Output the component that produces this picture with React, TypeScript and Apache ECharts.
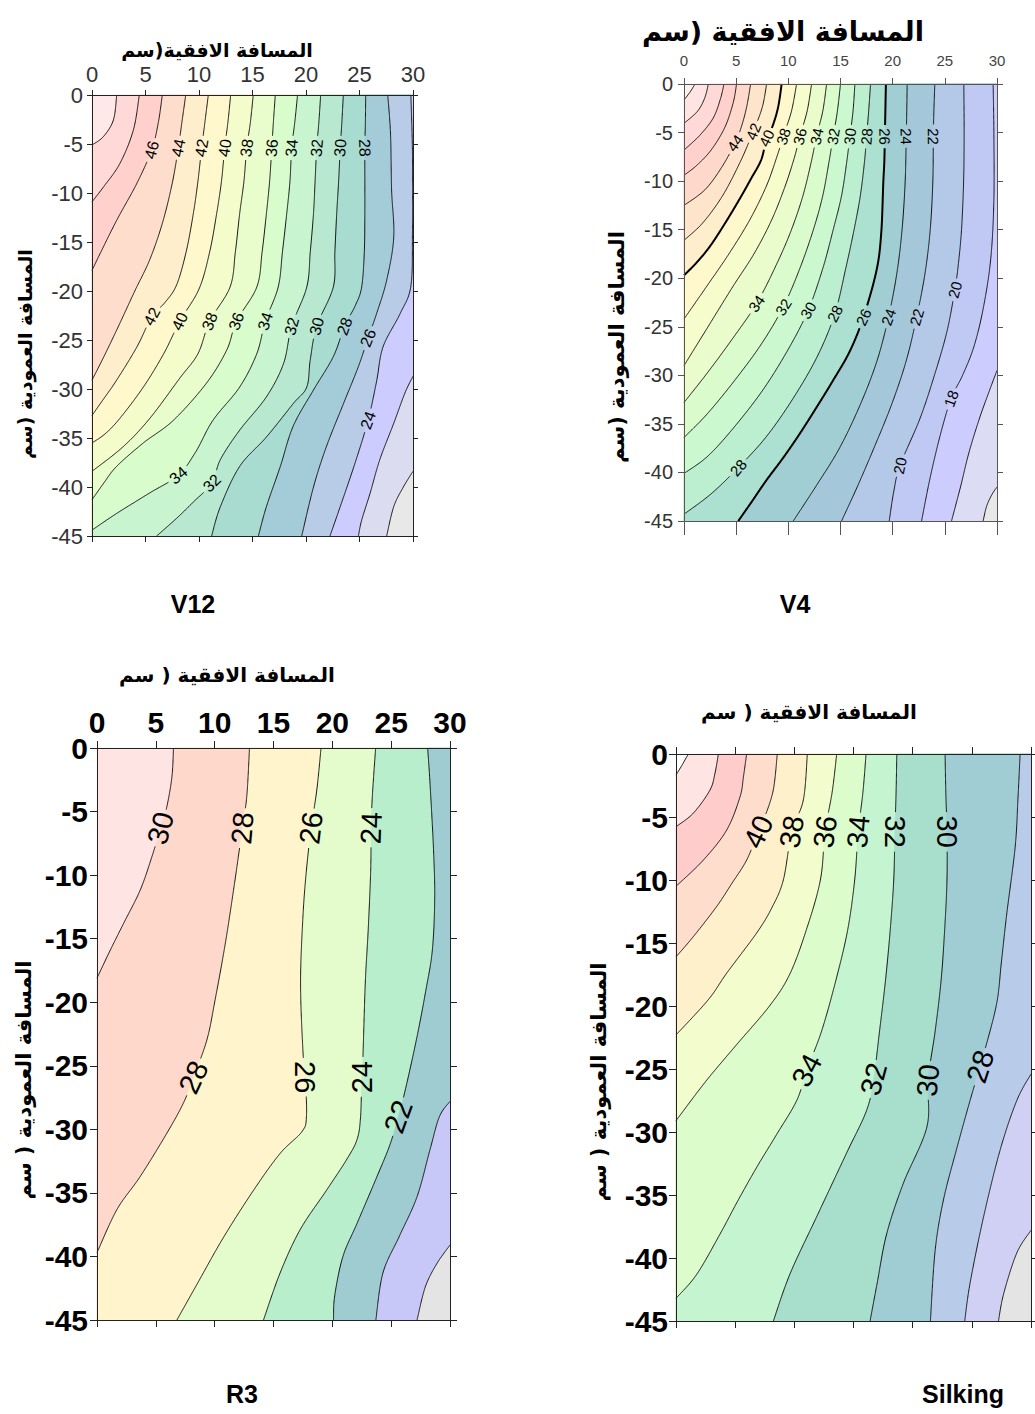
import React, { useEffect, useRef } from "react";
import * as echarts from "echarts";

type Pt = [number, number];

// ---------- shared axis ticks / texts ----------
const X_TICKS = [0, 5, 10, 15, 20, 25, 30];
const Y_TICKS = [0, -5, -10, -15, -20, -25, -30, -35, -40, -45];

const TITLE_H1 = "المسافة الافقية(سم";
const TITLE_H2 = "المسافة الافقية (سم";
const TITLE_H3 = "المسافة الافقية ( سم";
const TITLE_V1 = "المسافة العمودية (سم";
const TITLE_V3 = "المسافة العمودية ( سم";
const CAPTIONS = ["V12", "V4", "R3", "Silking"];

// ---------- V12 ----------
const V12_LEVELS = [50, 48, 46, 44, 42, 40, 38, 36, 34, 32, 30, 28, 26, 24, 22, 20];
const V12_LINES: Pt[][] = [
  [[2.31, 0], [2.0, -2.55], [1.06, -4.25], [0, -5.1]],
  [[4.42, 0], [3.86, -3.6], [2.6, -7.0], [1.06, -9.4], [0, -10.9]],
  [[6.57, 0], [6.2, -2.8], [5.58, -5.6], [4.2, -9.0], [2.3, -12.8], [0.75, -16.2], [0, -17.9]],
  [[8.76, 0], [8.4, -2.8], [8.07, -5.4], [7.5, -9], [6.6, -13], [5.4, -16.8], [4.0, -20], [2.6, -23.3], [1.2, -26.5], [0, -29.1]],
  [[10.87, 0], [10.55, -2.8], [10.25, -5.4], [9.9, -8.8], [9.47, -12.1], [8.8, -16], [7.9, -19.4], [6.8, -21.2], [5.6, -22.6], [4.2, -25.7], [2.3, -29.1], [0.9, -31.3], [0, -32.7]],
  [[12.96, 0], [12.7, -2.8], [12.4, -5.4], [12.1, -8.8], [11.65, -12.1], [11.0, -16], [10.0, -19.8], [8.2, -23.1], [6.7, -26.4], [4.8, -29.8], [2.6, -33.0], [1.2, -34.6], [0, -35.5]],
  [[15.07, 0], [14.8, -2.8], [14.46, -5.4], [14.2, -8.8], [13.8, -12.1], [13.4, -16], [12.9, -19.6], [11.0, -23.1], [9.9, -26.4], [8.2, -28.9], [5.4, -33.0], [2.9, -35.9], [0, -38.4]],
  [[17.13, 0], [16.95, -2.8], [16.8, -5.4], [16.6, -8.8], [16.3, -12.1], [15.9, -16], [15.4, -19.6], [13.5, -23.1], [12.6, -26], [10.7, -29.4], [7.6, -33.2], [4.8, -35.5], [2.3, -37.9], [1.1, -39.6], [0, -41.3]],
  [[19.21, 0], [18.95, -2.8], [18.66, -5.4], [18.5, -8.8], [18.2, -12.1], [17.8, -16], [17.4, -19.6], [16.2, -23.1], [15.4, -26.4], [13.8, -29.8], [11.3, -33.2], [9.7, -36.4], [8.07, -38.8], [5.4, -40.6], [2.3, -42.7], [0, -44.4]],
  [[21.37, 0], [21.2, -2.8], [21.0, -5.4], [20.85, -8.8], [20.7, -12.1], [20.4, -16], [20.07, -19.6], [18.66, -23.6], [17.9, -27.4], [16.3, -30.8], [13.8, -34.2], [12.0, -37.2], [11.2, -39.6], [9.5, -41.5], [7.9, -43.2], [6.04, -45]],
  [[23.49, 0], [23.35, -2.8], [23.2, -5.4], [23.05, -8.8], [22.87, -12.1], [22.7, -16], [22.55, -19.6], [21.0, -23.6], [20.4, -27], [20.07, -29.8], [18.8, -31.5], [16.3, -34.9], [13.8, -37.9], [12.0, -42], [11.18, -45]],
  [[25.58, 0], [25.55, -2.8], [25.5, -5.4], [25.5, -8.8], [25.5, -12.1], [25.45, -16], [25.2, -19.6], [24.6, -21.5], [23.6, -23.6], [22.55, -26.7], [20.7, -30.1], [18.8, -33.8], [17.6, -37.9], [16.3, -42], [15.55, -45]],
  [[27.64, 0], [27.9, -4], [28.0, -9.7], [28.2, -14.5], [27.54, -18.9], [26.6, -22.3], [25.8, -24.8], [24.9, -27.7], [23.5, -31.5], [21.9, -35.9], [20.7, -40], [19.6, -45]],
  [[29.8, 0], [29.95, -6], [29.95, -14], [29.8, -19.5], [28.8, -22.3], [27.2, -25.7], [26.6, -29.2], [25.8, -33.2], [24.6, -37.5], [23.2, -42], [22.24, -45]],
  [[30, -28.7], [29.25, -30.4], [28.2, -33.5], [26.9, -37.2], [26.0, -40.6], [25.2, -43.4], [24.9, -45]],
  [[30, -38.4], [29.1, -40], [28.2, -42], [27.54, -45]],
];
const V12_COLORS = ["#FFE8E8", "#FFD8D8", "#FFD0CC", "#FFDDCC", "#FFEECC", "#FFF8CC", "#F4FCCC", "#E8FCCC", "#D8FCCC", "#C8F4D0", "#B8E8D0", "#A8DCD0", "#A4CCD8", "#B8CCE8", "#CCCCFF", "#DCDCF0", "#E8E8E8"];
// [x, y, level, angle(deg)]
const V12_LABELS = [
  [5.58, -5.6, 46, 75], [8.07, -5.4, 44, 78], [10.25, -5.4, 42, 80], [12.4, -5.4, 40, 82], [14.46, -5.4, 38, 83],
  [16.8, -5.4, 36, 85], [18.66, -5.4, 34, 85], [21.0, -5.4, 32, 85], [23.2, -5.4, 30, 86], [25.5, -5.4, 28, -88],
  [5.6, -22.6, 42, 62], [8.2, -23.1, 40, 65], [11.0, -23.1, 38, 68], [13.5, -23.1, 36, 70], [16.2, -23.1, 34, 72],
  [18.66, -23.6, 32, 75], [21.0, -23.6, 30, 75], [23.6, -23.6, 28, 70], [25.8, -24.8, 26, 68], [25.8, -33.2, 24, 70],
  [8.07, -38.8, 34, 40], [11.2, -39.6, 32, 45],
];

// ---------- V4 ----------
const V4_LEVELS = [52, 50, 48, 46, 44, 42, 40, 38, 36, 34, 32, 30, 28, 26, 24, 22, 20, 18, 16, 14];
const V4_LINES: Pt[][] = [
  [[1.05, 0], [0.6, -0.8], [0, -1.65]],
  [[2.33, 0], [2.0, -1.4], [1.3, -2.8], [0, -4.05]],
  [[3.83, 0], [3.5, -1.5], [2.8, -3.5], [1.5, -5.3], [0, -6.8]],
  [[5.04, 0], [4.7, -2.0], [3.9, -4.5], [2.6, -6.8], [1.2, -8.4], [0, -9.4]],
  [[6.39, 0], [6.0, -2.4], [5.5, -4.4], [4.89, -6.08], [3.6, -8.6], [2.0, -10.9], [0, -12.5]],
  [[7.92, 0], [7.5, -2.4], [6.64, -4.88], [5.4, -8.0], [3.7, -11.5], [1.8, -14.3], [0, -16.1]],
  [[9.36, 0], [9.0, -2.5], [8.4, -4.6], [7.92, -5.57], [7.4, -7.8], [6.4, -9.8], [5.3, -11.9], [3.9, -14.4], [2.5, -16.7], [1.2, -18.4], [0, -19.7]],
  [[10.79, 0], [10.3, -2.8], [9.51, -5.4], [8.9, -7.5], [7.9, -10.5], [6.3, -14.0], [4.3, -17.5], [2.2, -20.8], [0, -24.2]],
  [[12.23, 0], [11.8, -2.8], [11.1, -5.4], [10.6, -7.5], [9.7, -10.5], [8.4, -14], [6.7, -17.5], [4.6, -21], [2.3, -25], [0, -29.0]],
  [[13.67, 0], [13.3, -2.8], [12.7, -5.4], [12.2, -8], [11.4, -11.5], [10.3, -15], [8.9, -18.5], [6.96, -22.6], [4.6, -26.3], [2.2, -29.8], [0, -32.8]],
  [[15.0, 0], [14.7, -2.8], [14.3, -5.4], [13.9, -8], [13.3, -11.5], [12.4, -15], [11.1, -19], [9.51, -22.96], [7.4, -26.8], [4.8, -30.6], [2.2, -34], [0, -36.4]],
  [[16.38, 0], [16.2, -2.8], [15.9, -5.4], [15.6, -8], [15.1, -11.5], [14.3, -15], [13.3, -19], [11.9, -23.3], [10.0, -27.3], [7.5, -31.6], [4.6, -35.6], [2.2, -38.4], [0, -40.1]],
  [[17.88, 0], [17.7, -2.8], [17.5, -5.4], [17.3, -8], [16.9, -11.5], [16.3, -15], [15.5, -19], [14.46, -23.65], [12.8, -28], [10.5, -32.3], [7.9, -36.3], [5.2, -39.5], [2.6, -42.2], [0, -44.3]],
  [[19.35, 0], [19.3, -2.8], [19.25, -5.4], [19.2, -8], [19.1, -10.2], [18.9, -15.4], [18.45, -19.2], [17.2, -24], [15.9, -27.5], [14.3, -30.5], [12.7, -33.3], [11.1, -36.0], [9.5, -38.5], [7.9, -40.8], [6.5, -43], [5.2, -45]],
  [[21.39, 0], [21.35, -2.8], [21.3, -5.4], [21.2, -10], [20.9, -15], [20.4, -19.5], [19.6, -24], [18.5, -28.5], [16.9, -33], [14.9, -37.5], [12.6, -41.5], [10.47, -45]],
  [[24.04, 0], [23.95, -2.8], [23.9, -5.4], [23.85, -10], [23.6, -15], [23.1, -19.5], [22.3, -24], [21.3, -28.5], [19.9, -33], [18.2, -37.5], [16.6, -41.5], [15.1, -45]],
  [[26.82, 0], [26.85, -5], [26.8, -10], [26.6, -15], [26.3, -18.5], [25.96, -21.2], [25.2, -25.5], [24.0, -30], [22.6, -34.5], [20.7, -39.3], [20.1, -42], [19.67, -45]],
  [[29.63, 0], [29.7, -5], [29.7, -12], [29.4, -18], [28.7, -23], [27.8, -27], [26.7, -30], [25.6, -32.4], [24.6, -36], [23.6, -40.5], [22.77, -45]],
  [[30, -29.5], [29.3, -31.5], [28.3, -34.5], [27.3, -38], [26.5, -41.5], [25.64, -45]],
  [[30, -41.5], [29.5, -42.3], [29.0, -43.5], [28.67, -45]],
];
const V4_BOLD = [40, 26];
const V4_COLORS = ["#FFF0F0", "#FFE4E4", "#FFD8D8", "#FFD0CC", "#FFD8CC", "#FFE4CC", "#FFEECC", "#FFF8CC", "#F6FCCC", "#EAFCCC", "#DAFCCC", "#CCF8D0", "#BCEED0", "#ACE0D0", "#A0CED2", "#A4C8DA", "#B4C8E8", "#C0C8F4", "#CCCCFF", "#DCDCF4", "#E8E8E8"];
const V4_LABELS = [
  [4.89, -6.08, 44, 55], [6.64, -4.88, 42, 68], [7.92, -5.57, 40, 65], [9.51, -5.4, 38, 72], [11.1, -5.4, 36, 75],
  [12.7, -5.4, 34, 78], [14.3, -5.4, 32, 80], [15.9, -5.4, 30, 83], [17.5, -5.4, 28, 85], [19.25, -5.4, 26, -89],
  [21.3, -5.4, 24, -89], [23.9, -5.4, 22, -89],
  [6.96, -22.6, 34, 55], [9.51, -22.96, 32, 58], [11.9, -23.3, 30, 60], [14.46, -23.65, 28, 63], [17.2, -24, 26, 65],
  [19.6, -24, 24, 70], [22.3, -24, 22, 73], [25.96, -21.2, 20, 75], [25.6, -32.4, 18, 70], [5.2, -39.5, 28, 50],
  [20.7, -39.3, 20, 78],
];

// ---------- R3 ----------
const R3_LEVELS = [30, 28, 26, 24, 22, 20, 18];
const R3_LINES: Pt[][] = [
  [[6.5, 0], [6.37, -2.24], [5.94, -4.6], [5.4, -6.3], [4.67, -8.54], [3.68, -11.16], [2.26, -13.8], [1.13, -15.9], [0, -18.1]],
  [[12.96, 0], [12.73, -3.8], [12.35, -6.3], [12.02, -8.5], [11.6, -11.2], [10.9, -15.4], [10.04, -19.8], [9.34, -22.96], [8.2, -25.9], [7.36, -27.9], [5.94, -30.3], [3.68, -33.7], [1.7, -36.3], [0, -39.7]],
  [[19.04, 0], [18.68, -3.3], [18.2, -6.3], [17.8, -9.6], [17.5, -13.3], [17.3, -18.5], [17.5, -23.8], [17.7, -25.9], [17.8, -29], [17.4, -30.2], [15.56, -31.9], [13.3, -34.8], [10.75, -38.5], [8.49, -42.2], [6.79, -45]],
  [[23.68, 0], [23.4, -3.8], [23.3, -6.3], [23.26, -9.6], [23.06, -14.1], [22.8, -18.5], [22.6, -24.3], [22.5, -25.9], [22.4, -29], [22.1, -30.8], [21.2, -32.4], [19.5, -34.8], [17.26, -37.9], [15.56, -41.3], [14.15, -45]],
  [[28.1, 0], [28.3, -2.76], [28.6, -8], [28.7, -11.9], [28.5, -15.9], [27.96, -19], [27.2, -22.7], [26.2, -26.9], [25.6, -29], [24.9, -31.2], [23.8, -33.7], [22.1, -37.4], [20.9, -40], [20.2, -43.1], [20.1, -45]],
  [[30, -27.8], [29.1, -29], [28.3, -31.6], [27.2, -35.3], [25.7, -38.4], [24.3, -41.3], [23.7, -45]],
  [[30, -39.1], [28.86, -40.6], [27.9, -42.4], [27.2, -45]],
];
const R3_COLORS = ["#FFE4E4", "#FFD8CC", "#FFF4CC", "#E4FCCC", "#B8EECC", "#9FCCD0", "#C8C8F8", "#E4E4E4"];
const R3_LABELS = [
  [5.4, -6.3, 30, 75], [12.35, -6.3, 28, 85], [18.2, -6.3, 26, 83], [23.3, -6.3, 24, 88],
  [8.2, -25.9, 28, 65], [17.7, -25.9, 26, -90], [22.5, -25.9, 24, 90], [25.6, -29, 22, 70],
];

// ---------- Silking ----------
const SK_LEVELS = [46, 44, 42, 40, 38, 36, 34, 32, 30, 28, 26, 24];
const SK_LINES: Pt[][] = [
  [[1.04, 0], [0.5, -0.9], [0, -1.67]],
  [[3.58, 0], [3.3, -1.5], [2.87, -2.86], [1.46, -4.7], [0, -5.77]],
  [[5.97, 0], [5.7, -1.8], [5.41, -3.4], [4.28, -6.04], [2.31, -8.42], [0, -10.5]],
  [[8.56, 0], [8.22, -2.86], [7.5, -5.0], [6.96, -6.17], [5.97, -8.42], [4.7, -10.3], [3.44, -12.1], [1.46, -14.5], [0, -16.1]],
  [[11.1, 0], [10.76, -3.65], [9.78, -6.17], [9.07, -10.0], [8.1, -12.2], [6.82, -14.2], [4.28, -17.4], [2.73, -19.5], [0, -22.3]],
  [[13.58, 0], [13.2, -3], [12.6, -6.17], [12.2, -10], [11.0, -14], [9.6, -17.5], [7.9, -20], [5.0, -23.2], [2.5, -26], [0, -29.1]],
  [[16.06, 0], [15.8, -3], [15.4, -6.17], [15.1, -10], [14.5, -14], [13.5, -18], [12.3, -22], [11.05, -25.1], [10.2, -27.5], [8.5, -30.2], [6.82, -32.8], [5.2, -35.5], [3.72, -38.1], [1.75, -41.3], [0, -43.2]],
  [[18.66, 0], [18.6, -3], [18.5, -6.17], [18.4, -10], [18.1, -14], [17.7, -18], [17.2, -22], [16.7, -25.8], [16.1, -28.3], [14.4, -31.7], [11.9, -36.7], [9.64, -41.25], [8.23, -45]],
  [[22.74, 0], [22.8, -3], [22.9, -6.17], [22.9, -10], [22.7, -14], [22.4, -18], [21.9, -22], [21.3, -25.9], [21.2, -29.6], [19.2, -34.1], [17.8, -38.1], [17.0, -42], [16.4, -45]],
  [[29.08, 0], [28.9, -3.5], [28.66, -7.4], [27.95, -12.7], [27.5, -16.5], [27.1, -19.8], [26.1, -23.5], [25.7, -24.8], [24.85, -27.5], [23.7, -31.4], [22.6, -35.4], [21.9, -39.4], [21.5, -45]],
  [[30, -25.4], [28.8, -27.5], [27.4, -31.4], [26.0, -36.7], [24.85, -42.0], [24.4, -45]],
  [[30, -37.8], [28.8, -39.6], [27.7, -42.8], [27.25, -45]],
];
const SK_COLORS = ["#FFFFFF", "#FFE4E4", "#FFCCCC", "#FFDDCC", "#FFF0CC", "#F2FCCC", "#DCFCCC", "#C4F4D0", "#A8DECC", "#A0CCD4", "#B8CCEA", "#D0D0F4", "#E4E4E4"];
const SK_LABELS = [
  [6.96, -6.17, 40, 65], [9.78, -6.17, 38, 80], [12.6, -6.17, 36, 82], [15.4, -6.17, 34, 85], [18.5, -6.17, 32, -90],
  [22.9, -6.17, 30, -90], [11.05, -25.1, 34, 62], [16.7, -25.8, 32, 75], [21.3, -25.9, 30, 85], [25.7, -24.8, 28, 72],
];

// ---------- geometry helpers ----------
const XMIN = X_TICKS[0];
const XMAX = X_TICKS[X_TICKS.length - 1];
const YMAX = Y_TICKS[0];
const YMIN = Y_TICKS[Y_TICKS.length - 1];
const W = XMAX - XMIN;
const H = YMAX - YMIN;
const PER = 2 * (W + H);

function perim(p: Pt): number {
  const e = 1e-6;
  const [x, y] = p;
  if (x <= XMIN + e) return YMAX - y;
  if (y <= YMIN + e) return H + (x - XMIN);
  if (x >= XMAX - e) return H + W + (y - YMIN);
  return 2 * H + W + (XMAX - x);
}
const CORNERS: { s: number; p: Pt }[] = [
  { s: 0, p: [XMIN, YMAX] },
  { s: H, p: [XMIN, YMIN] },
  { s: H + W, p: [XMAX, YMIN] },
  { s: 2 * H + W, p: [XMAX, YMAX] },
];
function cornersAfter(line: Pt[]): Pt[] {
  const ss = perim(line[0]);
  const se = perim(line[line.length - 1]);
  const d = (((ss - se) % PER) + PER) % PER;
  return CORNERS.map((c) => ({ dc: (((c.s - se) % PER) + PER) % PER, p: c.p }))
    .filter((c) => c.dc > 1e-6 && c.dc < d - 1e-6)
    .sort((a, b) => a.dc - b.dc)
    .map((c) => c.p);
}

function smoothPx(pts: number[][], step = 1.5): number[][] {
  if (pts.length < 3) {
    const out: number[][] = [];
    for (let i = 0; i < pts.length - 1; i++) {
      const a = pts[i], b = pts[i + 1];
      const n = Math.max(1, Math.ceil(Math.hypot(b[0] - a[0], b[1] - a[1]) / step));
      for (let k = 0; k < n; k++) out.push([a[0] + ((b[0] - a[0]) * k) / n, a[1] + ((b[1] - a[1]) * k) / n]);
    }
    out.push(pts[pts.length - 1]);
    return out;
  }
  const out: number[][] = [];
  for (let i = 0; i < pts.length - 1; i++) {
    const p0 = pts[Math.max(i - 1, 0)], p1 = pts[i], p2 = pts[i + 1], p3 = pts[Math.min(i + 2, pts.length - 1)];
    const len = Math.hypot(p2[0] - p1[0], p2[1] - p1[1]);
    const n = Math.max(2, Math.ceil(len / step));
    for (let k = 0; k < n; k++) {
      const t = k / n, t2 = t * t, t3 = t2 * t;
      const q = [0, 1].map(
        (j) =>
          0.5 *
          (2 * p1[j] +
            (-p0[j] + p2[j]) * t +
            (2 * p0[j] - 5 * p1[j] + 4 * p2[j] - p3[j]) * t2 +
            (-p0[j] + 3 * p1[j] - 3 * p2[j] + p3[j]) * t3)
      );
      out.push(q);
    }
  }
  out.push(pts[pts.length - 1]);
  return out;
}

// ---------- panel definitions ----------
interface Panel {
  levels: number[];
  lines: Pt[][];
  colors: string[];
  labels: number[][];
  bold: number[];
  grid: { left: number; top: number; width: number; height: number };
  labelFont: number;
  axisColor: string;
  xLab: any;
  yLab: any;
  ticks: { top: number; bottom: number; left: number; right: number };
}

const PANELS: Panel[] = [
  {
    levels: V12_LEVELS, lines: V12_LINES, colors: V12_COLORS, labels: V12_LABELS, bold: [],
    grid: { left: 92, top: 95, width: 321, height: 441 },
    labelFont: 16, axisColor: "#222",
    xLab: { show: true, fontSize: 22, fontWeight: "normal", color: "#333", margin: 10 },
    yLab: { show: true, fontSize: 22, fontWeight: "normal", color: "#333", margin: 9 },
    ticks: { top: 5, bottom: 6, left: 5, right: 5 },
  },
  {
    levels: V4_LEVELS, lines: V4_LINES, colors: V4_COLORS, labels: V4_LABELS, bold: V4_BOLD,
    grid: { left: 684, top: 84, width: 313, height: 437 },
    labelFont: 15, axisColor: "#555",
    xLab: { show: true, fontSize: 15, fontWeight: "normal", color: "#444", margin: 16 },
    yLab: { show: true, fontSize: 20, fontWeight: "normal", color: "#333", margin: 11 },
    ticks: { top: 6, bottom: 14, left: 6, right: 6 },
  },
  {
    levels: R3_LEVELS, lines: R3_LINES, colors: R3_COLORS, labels: R3_LABELS, bold: [],
    grid: { left: 97, top: 748, width: 353, height: 572 },
    labelFont: 29, axisColor: "#222",
    xLab: { show: true, fontSize: 30, fontWeight: "bold", color: "#000", margin: 11 },
    yLab: { show: true, fontSize: 30, fontWeight: "bold", color: "#000", margin: 9 },
    ticks: { top: 7, bottom: 7, left: 7, right: 7 },
  },
  {
    levels: SK_LEVELS, lines: SK_LINES, colors: SK_COLORS, labels: SK_LABELS, bold: [],
    grid: { left: 676, top: 754, width: 355, height: 567 },
    labelFont: 29, axisColor: "#222",
    xLab: { show: false },
    yLab: { show: true, fontSize: 30, fontWeight: "bold", color: "#000", margin: 8 },
    ticks: { top: 7, bottom: 7, left: 7, right: 4 },
  },
];

const FONT = '"Liberation Sans", Arial, sans-serif';
const AR_FONT = '"DejaVu Sans", "Noto Sans", sans-serif';

function makeAxis(kind: "x" | "y", g: number, position: string, lab: any, tickLen: number, color: string) {
  const ticks = kind === "x" ? X_TICKS : Y_TICKS;
  const lo = Math.min(...ticks), hi = Math.max(...ticks);
  return {
    type: "value",
    gridIndex: g,
    position,
    min: lo,
    max: hi,
    interval: Math.abs(ticks[1] - ticks[0]),
    z: 10,
    axisLine: { show: true, onZero: false, lineStyle: { color, width: 1 } },
    axisTick: { show: true, inside: false, length: tickLen, lineStyle: { color, width: 1 } },
    axisLabel: lab && lab.show
      ? { show: true, fontSize: lab.fontSize, fontWeight: lab.fontWeight, color: lab.color, margin: lab.margin, fontFamily: FONT, showMinLabel: true, showMaxLabel: true }
      : { show: false },
    splitLine: { show: false },
  };
}

function buildOption() {
  const option: any = { animation: false, grid: [], xAxis: [], yAxis: [], series: [], graphic: [] };
  PANELS.forEach((P, g) => {
    option.grid.push({ ...P.grid });
    const xi = option.xAxis.length;
    option.xAxis.push(makeAxis("x", g, "top", P.xLab, P.ticks.top, P.axisColor));
    option.xAxis.push(makeAxis("x", g, "bottom", null, P.ticks.bottom, P.axisColor));
    const yi = option.yAxis.length;
    option.yAxis.push(makeAxis("y", g, "left", P.yLab, P.ticks.left, P.axisColor));
    option.yAxis.push(makeAxis("y", g, "right", null, P.ticks.right, P.axisColor));

    const fs = P.labelFont;
    // filled bands
    option.series.push({
      type: "custom",
      xAxisIndex: xi,
      yAxisIndex: yi,
      z: 1,
      silent: true,
      data: P.colors.map(() => [XMIN, YMAX]),
      renderItem: (params: any, api: any) => {
        const i = params.dataIndex;
        let pts: number[][];
        if (i === 0) {
          pts = CORNERS.map((c) => api.coord(c.p));
        } else {
          const line = P.lines[i - 1];
          const px = smoothPx(line.map((p) => api.coord(p)));
          pts = px.concat(cornersAfter(line).map((p) => api.coord(p)));
        }
        return { type: "polygon", shape: { points: pts }, style: { fill: P.colors[i], stroke: P.colors[i], lineWidth: 0.6 } };
      },
    });
    // contour lines with gaps at labels
    option.series.push({
      type: "custom",
      xAxisIndex: xi,
      yAxisIndex: yi,
      z: 2,
      silent: true,
      data: P.lines.map(() => [XMIN, YMAX]),
      renderItem: (params: any, api: any) => {
        const i = params.dataIndex;
        const lvl = P.levels[i];
        const px = smoothPx(P.lines[i].map((p) => api.coord(p)), 1);
        const labs = P.labels
          .filter((l) => l[2] === lvl)
          .map((l) => ({
            c: api.coord([l[0], l[1]]),
            a: (l[3] * Math.PI) / 180,
            hw: (String(l[2]).length * 0.556 * fs) / 2 + 3,
            hh: fs * 0.55,
          }));
        const inside = (q: number[]) =>
          labs.some((L) => {
            const dx = q[0] - L.c[0], dy = q[1] - L.c[1];
            const a = dx * Math.cos(L.a) - dy * Math.sin(L.a);
            const b = dx * Math.sin(L.a) + dy * Math.cos(L.a);
            return Math.abs(a) < L.hw && Math.abs(b) < L.hh;
          });
        const runs: number[][][] = [];
        let cur: number[][] = [];
        for (const q of px) {
          if (inside(q)) {
            if (cur.length > 1) runs.push(cur);
            cur = [];
          } else cur.push(q);
        }
        if (cur.length > 1) runs.push(cur);
        const w = P.bold.includes(lvl) ? 2 : 0.9;
        return {
          type: "group",
          children: runs.map((r) => ({ type: "polyline", shape: { points: r }, style: { stroke: "#000", lineWidth: w, fill: null } })),
        };
      },
    });
    // contour labels
    option.series.push({
      type: "custom",
      xAxisIndex: xi,
      yAxisIndex: yi,
      z: 3,
      silent: true,
      data: P.labels.map((l) => [l[0], l[1], l[2], l[3]]),
      renderItem: (params: any, api: any) => {
        const c = api.coord([api.value(0), api.value(1)]);
        return {
          type: "text",
          x: c[0],
          y: c[1],
          rotation: (api.value(3) * Math.PI) / 180,
          style: { text: String(api.value(2)), textAlign: "center", textVerticalAlign: "middle", font: `${fs}px ${FONT}`, fill: "#000" },
        };
      },
    });
  });

  const txt = (text: string, x: number, y: number, font: string, rot = 0) => ({
    type: "text",
    x,
    y,
    rotation: rot,
    z: 100,
    style: { text, font, fill: "#000", textAlign: "center", textVerticalAlign: "middle" },
  });
  option.graphic = [
    txt(TITLE_H1, 217, 50, `bold 19px ${AR_FONT}`),
    txt(TITLE_H2, 783, 31, `bold 27px ${AR_FONT}`),
    txt(TITLE_H3, 227, 675, `bold 20px ${AR_FONT}`),
    txt(TITLE_H3, 809, 712, `bold 20px ${AR_FONT}`),
    txt(TITLE_V1, 25, 354, `bold 19px ${AR_FONT}`, Math.PI / 2),
    txt(TITLE_V1, 617, 347, `bold 21px ${AR_FONT}`, Math.PI / 2),
    txt(TITLE_V3, 24, 1080, `bold 21px ${AR_FONT}`, Math.PI / 2),
    txt(TITLE_V3, 599, 1082, `bold 21px ${AR_FONT}`, Math.PI / 2),
    txt(CAPTIONS[0], 193, 604, `bold 25px ${FONT}`),
    txt(CAPTIONS[1], 795, 604, `bold 25px ${FONT}`),
    txt(CAPTIONS[2], 242, 1394, `bold 25px ${FONT}`),
    txt(CAPTIONS[3], 963, 1394, `bold 25px ${FONT}`),
  ];
  return option;
}

export default function App() {
  const ref = useRef<HTMLDivElement>(null);
  useEffect(() => {
    document.body.style.margin = "0";
    document.body.style.background = "#fff";
    if (!ref.current) return;
    const chart = echarts.init(ref.current, undefined, { renderer: "svg" });
    chart.setOption(buildOption());
    return () => chart.dispose();
  }, []);
  return <div ref={ref} style={{ width: 1035, height: 1414, background: "#fff" }} />;
}
